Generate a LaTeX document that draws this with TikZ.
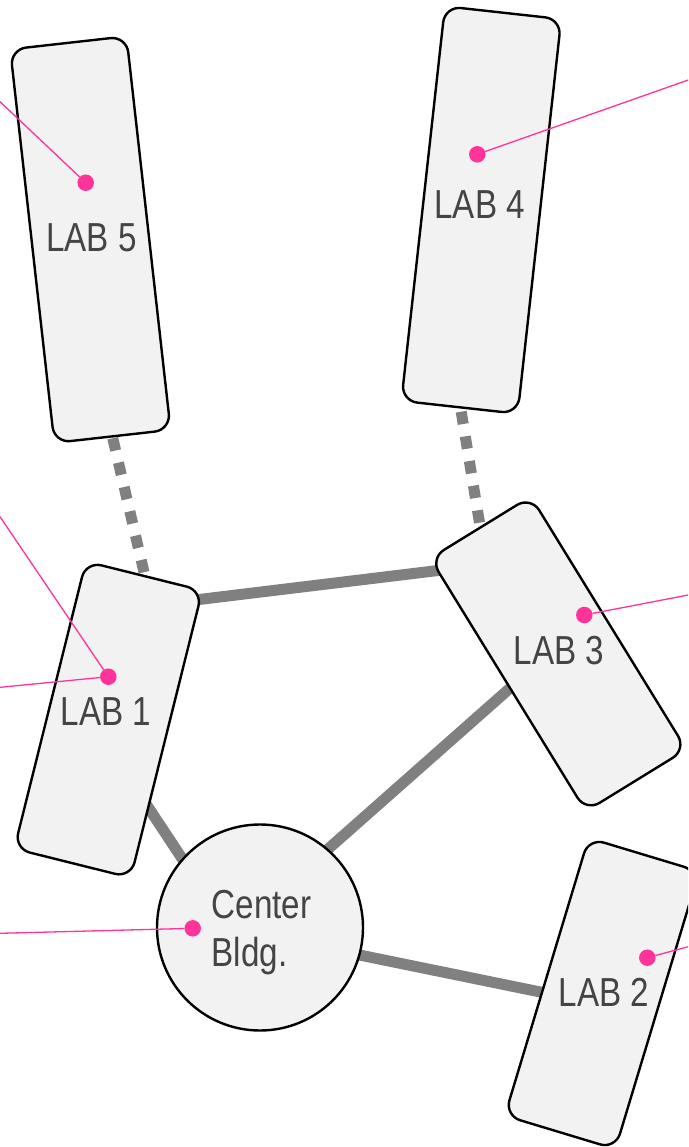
\documentclass[tikz,border=0pt]{standalone}
\usepackage{fontspec}
\newfontfamily\labfont{Liberation Sans}[FakeStretch=0.82]
\definecolor{boxfill}{HTML}{F2F2F2}
\definecolor{linkgray}{HTML}{808080}
\definecolor{pinkc}{HTML}{FF3399}
\definecolor{txtc}{HTML}{444444}
\begin{document}
\begin{tikzpicture}[x=1pt,y=-1pt,
  labbox/.style={draw=black, line width=2.4pt, fill=boxfill, rounded corners=16pt,
    minimum width=117pt, inner sep=0pt, outer sep=0pt},
  bldg/.style={circle, draw=black, line width=2.4pt, fill=boxfill, minimum size=206pt,
    inner sep=0pt, outer sep=0pt},
  labtext/.style={font=\labfont\fontsize{40.5}{48.3}\selectfont, text=txtc, anchor=base, inner sep=0pt},
  link/.style={draw=linkgray, line width=11pt},
  dashlink/.style={link, dash pattern=on 12.5pt off 12.5pt},
  pin/.style={draw=pinkc, line width=1.3pt},
  dot/.style={circle, fill=pinkc, minimum size=16.5pt, inner sep=0pt}]
\useasboundingbox (0,0) rectangle (688,1147);
\fill[white] (0,0) rectangle (688,1147);
\clip (0,0) rectangle (688,1147);
% connector end points (hidden under the buildings)
\coordinate (c51) at (112.8,438.3);
\coordinate (c15) at (147,585);
\coordinate (c43) at (461.2,411.7);
\coordinate (c34) at (484,550);
\coordinate (c13) at (185,601.2);
\coordinate (c31) at (452,568.8);
\coordinate (c1c) at (144.5,801.7);
\coordinate (cc1) at (195,878);
\coordinate (c3c) at (519.2,680);
\coordinate (cc3) at (310,865);
\coordinate (cc2) at (340,951);
\coordinate (c2c) at (555,995);
\draw[dashlink] (c51) -- (c15);
\draw[dashlink] (c43) -- (c34);
\draw[link] (c13) -- (c31);
\draw[link] (c1c) -- (cc1);
\draw[link] (c3c) -- (cc3);
\draw[link] (cc2) -- (c2c);
% buildings
\node[labbox, minimum height=396pt, rotate=6.4] (lab5) at (90.4,239.6) {};
\node[labbox, minimum height=397pt, rotate=-6.3] (lab4) at (481.3,210) {};
\node[labbox, minimum width=120pt, minimum height=296pt, rotate=-14] (lab1) at (108.3,719.6) {};
\node[labbox, minimum width=118pt, minimum height=297pt, rotate=31.6] (lab3) at (558.3,653.9) {};
\node[labbox, minimum width=115.5pt, minimum height=290pt, rotate=-16.8] (lab2) at (602,993.5) {};
\node[bldg] (ctr) at (260,927.5) {};
% labels
\node[labtext] (t5) at (91.5,252) {LAB 5};
\node[labtext] (t4) at (479.7,218.3) {LAB 4};
\node[labtext] (t1) at (106.2,725) {LAB 1};
\node[labtext] (t3) at (558.8,664) {LAB 3};
\node[labtext] (t2) at (604.2,1006.7) {LAB 2};
\node[labtext, anchor=base west] (tc1) at (211.5,918.3) {Center};
\node[labtext, anchor=base west] (tc2) at (211.5,966.7) {Bldg.};
% pins
\node[dot] (d5) at (85.7,182.7) {};
\node[dot] (d4) at (477.3,154.3) {};
\node[dot] (d1) at (108.3,676.7) {};
\node[dot] (d3) at (584.3,615) {};
\node[dot] (d2) at (647.3,957.7) {};
\node[dot] (dc) at (192.7,928.3) {};
\coordinate (p5) at (0,101.7);
\coordinate (p4) at (688.3,80);
\coordinate (p1a) at (0,516.7);
\coordinate (p1b) at (0,687.3);
\coordinate (p3) at (688.3,595);
\coordinate (p2) at (688.3,946.7);
\coordinate (pc) at (0,933.3);
\draw[pin] (p5) -- (d5);
\draw[pin] (p4) -- (d4);
\draw[pin] (p1a) -- (d1);
\draw[pin] (p1b) -- (d1);
\draw[pin] (p3) -- (d3);
\draw[pin] (p2) -- (d2);
\draw[pin] (pc) -- (dc);
\end{tikzpicture}
\end{document}
